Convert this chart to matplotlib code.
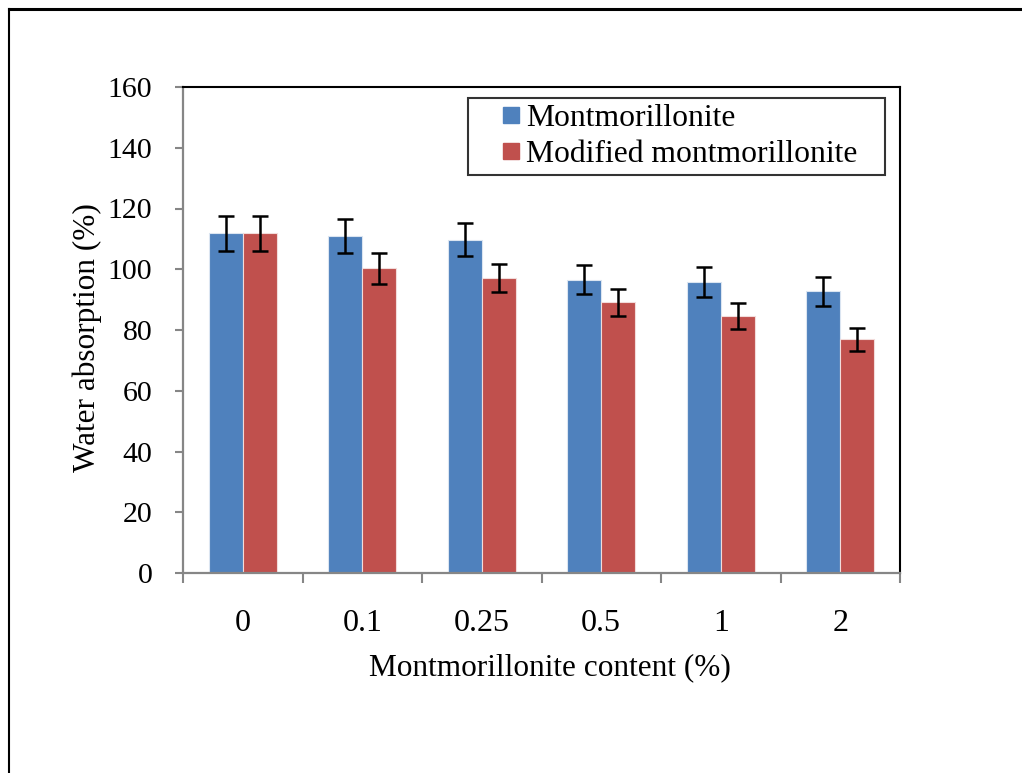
import matplotlib.pyplot as plt
import numpy as np
from matplotlib.lines import Line2D

plt.rcParams['font.family'] = ['Liberation Serif', 'DejaVu Serif']

categories = ["0", "0.1", "0.25", "0.5", "1", "2"]
mmt = [111.8, 111.0, 109.7, 96.6, 95.9, 92.7]
mmt_err = [5.8, 5.7, 5.4, 4.8, 5.0, 4.8]
mod_mmt = [111.8, 100.3, 97.1, 89.1, 84.6, 77.0]
mod_err = [5.8, 5.0, 4.7, 4.5, 4.2, 3.8]

blue = "#4F81BD"
red = "#C0504D"
gray = "#868686"

fig = plt.figure(figsize=(10.22, 7.73), dpi=100)
ax = fig.add_axes([183 / 1022, 1 - 573 / 773, 717 / 1022, 486 / 773])

x = np.arange(len(categories))
w = 0.285
err_kw = dict(ecolor="black", elinewidth=1.8, capsize=6, capthick=1.8)
ax.bar(x - w / 2, mmt, w, yerr=mmt_err, color=blue, edgecolor="#dbe5f1",
       linewidth=0.8, error_kw=err_kw)
ax.bar(x + w / 2, mod_mmt, w, yerr=mod_err, color=red, edgecolor="#f2dcdb",
       linewidth=0.8, error_kw=err_kw)

ax.set_xlim(-0.5, len(categories) - 0.5)
ax.set_ylim(0, 160)
ax.set_yticks(np.arange(0, 161, 20))

# tick marks at category boundaries, labels at centres
ax.set_xticks(np.arange(-0.5, len(categories), 1.0))
ax.set_xticklabels([])
ax.set_xticks(x, minor=True)
ax.set_xticklabels(categories, minor=True)
ax.tick_params(axis="x", which="major", length=7, width=1.5, color=gray, direction="out")
ax.tick_params(axis="x", which="minor", length=0, pad=26, labelsize=23)
ax.tick_params(axis="y", length=6, width=1.5, color=gray, direction="out",
               pad=16, labelsize=21.5)

for side in ["left", "bottom"]:
    ax.spines[side].set_color(gray)
    ax.spines[side].set_linewidth(1.6)
for side in ["top", "right"]:
    ax.spines[side].set_color("black")
    ax.spines[side].set_linewidth(1.5)

ax.set_ylabel("Water absorption (%)", fontsize=22.5, labelpad=4)
ax.set_xlabel("Montmorillonite content (%)", fontsize=22.5, labelpad=11)
ax.yaxis.label.set_y(0.485)
ax.xaxis.label.set_x(0.512)

handles = [Line2D([], [], marker="s", linestyle="none", markersize=12,
                  markerfacecolor=blue, markeredgecolor=blue),
           Line2D([], [], marker="s", linestyle="none", markersize=12,
                  markerfacecolor=red, markeredgecolor=red)]
leg = ax.legend(handles, ["Montmorillonite", "Modified montmorillonite"],
                loc="upper left", bbox_to_anchor=(0.3975, 0, 0.5816, 0.9774),
                mode="expand", fontsize=22.75, frameon=True, fancybox=False,
                edgecolor="black", handlelength=2.3, handletextpad=-0.66,
                borderpad=0.2, labelspacing=0.2, borderaxespad=0)
leg.get_frame().set_linewidth(1.5)

# outer page frame
fig.add_artist(Line2D([9 / 1022, 1], [1 - 9 / 773, 1 - 9 / 773],
                      transform=fig.transFigure, color="black", linewidth=2.2))
fig.add_artist(Line2D([9 / 1022, 9 / 1022], [0, 1 - 9 / 773],
                      transform=fig.transFigure, color="black", linewidth=1.5))

fig.savefig("out.png", dpi=100)
